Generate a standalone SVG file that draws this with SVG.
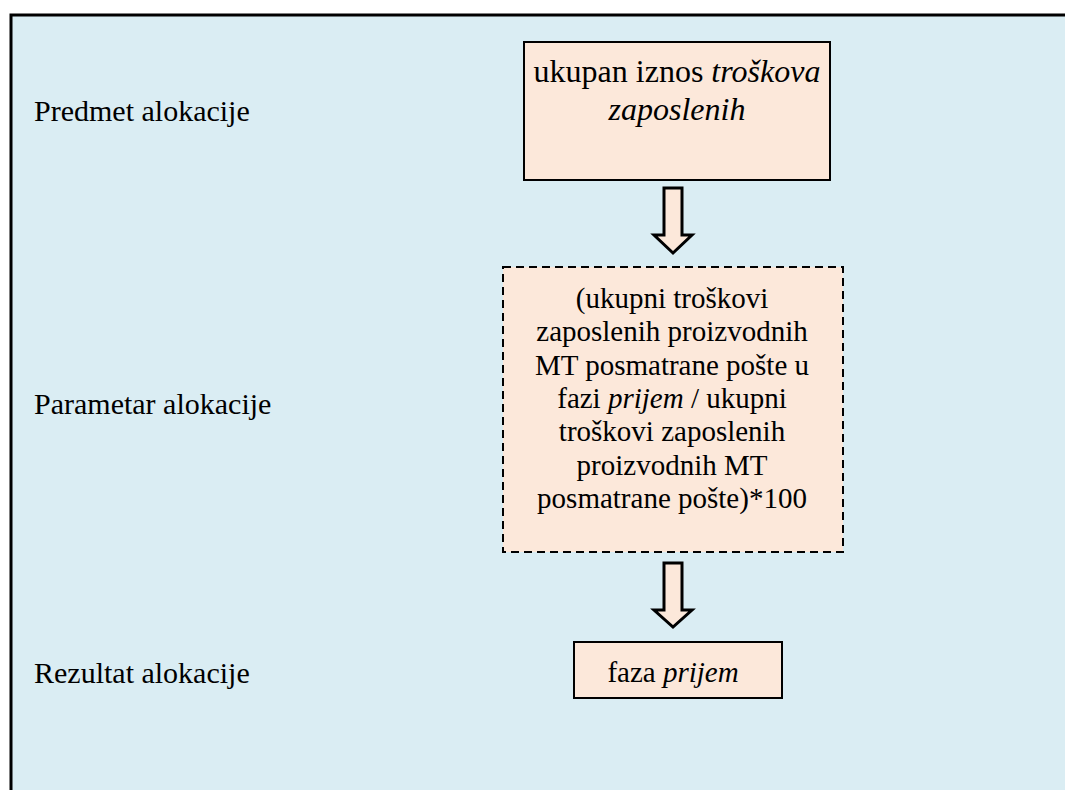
<svg xmlns="http://www.w3.org/2000/svg" width="1065" height="790" viewBox="0 0 1065 790">
  <style>
    .frame { fill: #DAEDF3; stroke: #000; stroke-width: 3; }
    .box { fill: #FCE8DA; stroke: #000; stroke-width: 2; }
    .dashed { fill: #FCE8DA; stroke: #000; stroke-width: 2; stroke-dasharray: 8 5; }
    .arrow { fill: #FCE8DA; stroke: #000; stroke-width: 3; stroke-linejoin: miter; }
    text { font-family: "Liberation Serif", "Times New Roman", serif; fill: #000; }
    .lbl { font-size: 30px; }
    .nt { font-size: 29px; text-anchor: middle; }
    .big { font-size: 32px; }
    .it { font-style: italic; }
  </style>

  <!-- background panel -->
  <rect class="frame" x="11" y="15" width="1070" height="800"/>

  <!-- row labels -->
  <text class="lbl" x="34" y="121">Predmet alokacije</text>
  <text class="lbl" x="34" y="414">Parametar alokacije</text>
  <text class="lbl" x="34" y="683">Rezultat alokacije</text>

  <!-- connectors -->
  <g id="connectors">
    <path class="arrow" d="M664,188 H682 V235 H692 L673,253 L654,235 H664 Z"/>
    <path class="arrow" d="M664,563 H682 V610 H692 L673,627 L654,610 H664 Z"/>
  </g>

  <g id="node-subject">
    <rect class="box" x="524" y="42" width="306" height="138"/>
    <text class="nt big" x="677" y="82">ukupan iznos <tspan class="it">troškova</tspan></text>
    <text class="nt big it" x="677" y="120">zaposlenih</text>
  </g>

  <g id="node-parameter">
    <rect class="dashed" x="503" y="267" width="340" height="285"/>
    <text class="nt" x="672" y="307.5">(ukupni troškovi</text>
    <text class="nt" x="672" y="341">zaposlenih proizvodnih</text>
    <text class="nt" x="672" y="374.5">MT posmatrane pošte u</text>
    <text class="nt" x="672" y="408">fazi <tspan class="it">prijem</tspan> / ukupni</text>
    <text class="nt" x="672" y="441">troškovi zaposlenih</text>
    <text class="nt" x="672" y="474.5">proizvodnih MT</text>
    <text class="nt" x="672" y="508">posmatrane pošte)*100</text>
  </g>

  <g id="node-result">
    <rect class="box" x="574" y="642" width="208" height="56"/>
    <text class="nt" x="673" y="682">faza <tspan class="it">prijem</tspan></text>
  </g>
</svg>
